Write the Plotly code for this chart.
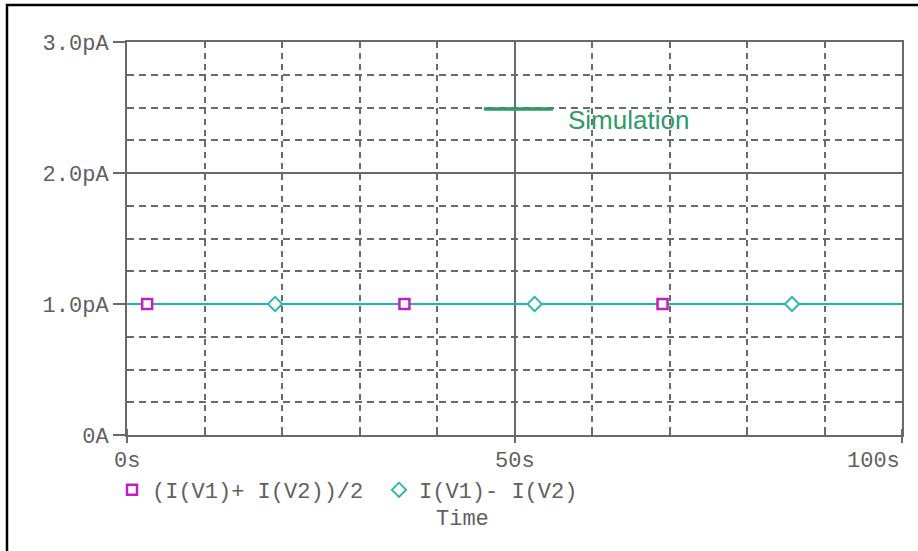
import plotly.graph_objects as go

# ---- data ----
time_s = [0, 100]
i_avg_pA = [1.0, 1.0]          # (I(V1)+ I(V2))/2
i_diff_pA = [1.0, 1.0]         # I(V1)- I(V2)
avg_marker_t = [2.6, 35.8, 69.1]
avg_marker_v = [1.0, 1.0, 1.0]
diff_marker_t = [19.1, 52.6, 85.8]
diff_marker_v = [1.0, 1.0, 1.0]

y_tick_vals = [0, 1, 2, 3]
y_tick_text = ["0A", "1.0pA", "2.0pA", "3.0pA"]
x_tick_vals = [0, 50, 100]
x_tick_text = ["0s", "50s", "100s"]

name_avg = "(I(V1)+ I(V2))/2"
name_diff = "I(V1)- I(V2)"

MAG = "#c020c0"
CYAN = "#22b4b4"
GRID = "#6a6a6a"
TXT = "#606060"
GREEN = "#2f9a68"
MONO = "Liberation Mono, Courier New, monospace"

fig = go.Figure()
fig.add_trace(go.Scatter(x=time_s, y=i_avg_pA, mode="lines",
                         line=dict(color=MAG, width=2), showlegend=False, hoverinfo="skip"))
fig.add_trace(go.Scatter(x=time_s, y=i_diff_pA, mode="lines",
                         line=dict(color=CYAN, width=2.2), showlegend=False, hoverinfo="skip"))
fig.add_trace(go.Scatter(x=avg_marker_t, y=avg_marker_v, mode="markers", name=name_avg,
                         marker=dict(symbol="square", size=10, color="white",
                                     line=dict(color=MAG, width=2.5))))
fig.add_trace(go.Scatter(x=diff_marker_t, y=diff_marker_v, mode="markers", name=name_diff,
                         marker=dict(symbol="diamond", size=11, color="white",
                                     line=dict(color=CYAN, width=1.8))))

L, T, R, B = 127, 42, 16, 116
W, H = 918, 551
pw, ph = W - L - R, H - T - B

def px(x):
    return (x - L) / pw

def py(y):
    return (H - B - y) / ph

annotations = []
for v, t in zip(x_tick_vals, x_tick_text):
    annotations.append(dict(x=v, y=py(461), xref="x", yref="paper", text=t,
                            showarrow=False, xanchor="right" if v == max(x_tick_vals) else "center",
                            yanchor="middle", font=dict(family=MONO, size=22, color=TXT)))
annotations.append(dict(x=px(462), y=py(519), xref="paper", yref="paper", text="Time",
                        showarrow=False, xanchor="center", yanchor="middle",
                        font=dict(family=MONO, size=22, color=TXT)))
annotations.append(dict(x=px(566), y=py(120), xref="paper", yref="paper", text="Simulation",
                        showarrow=False, xanchor="left", yanchor="middle",
                        font=dict(family="Liberation Sans, Arial, sans-serif", size=26, color=GREEN)))

shapes = [
    dict(type="line", xref="paper", yref="paper", x0=px(484), x1=px(553), y0=py(109), y1=py(109),
         line=dict(color=GREEN, width=3.5)),
    dict(type="line", xref="paper", yref="paper", x0=px(6), x1=px(920), y0=py(5), y1=py(5),
         line=dict(color="black", width=2.5)),
    dict(type="line", xref="paper", yref="paper", x0=px(7), x1=px(7), y0=py(4), y1=py(555),
         line=dict(color="black", width=2.5)),
]

fig.update_layout(
    width=W, height=H,
    margin=dict(l=L, r=R, t=T, b=B),
    paper_bgcolor="white", plot_bgcolor="white",
    showlegend=True,
    legend=dict(orientation="h", x=px(112), xanchor="left", y=py(490), yanchor="middle",
                font=dict(family=MONO, size=22, color=TXT), bgcolor="rgba(0,0,0,0)",
                itemclick=False, tracegroupgap=0, entrywidth=222),
    annotations=annotations,
    shapes=shapes,
)

fig.update_xaxes(range=[0, 100], showline=True, linecolor=GRID, linewidth=2, mirror=True,
                 tickvals=x_tick_vals, showticklabels=False, ticks="outside", ticklen=6,
                 tickcolor=GRID, tickwidth=2,
                 showgrid=True, gridcolor=GRID, gridwidth=1.5, zeroline=False,
                 minor=dict(dtick=10, tick0=0, ticks="inside", ticklen=6, tickcolor=GRID,
                            showgrid=True, gridcolor=GRID, gridwidth=1.5, griddash="6px,5px"))
fig.update_yaxes(range=[0, 3], showline=True, linecolor=GRID, linewidth=2, mirror=True,
                 tickvals=y_tick_vals, ticktext=y_tick_text, ticks="outside", ticklen=12,
                 tickcolor=GRID, tickwidth=2,
                 tickfont=dict(family=MONO, size=22, color=TXT),
                 showgrid=True, gridcolor=GRID, gridwidth=1.5, zeroline=False,
                 minor=dict(dtick=0.25, tick0=0, ticks="",
                            showgrid=True, gridcolor=GRID, gridwidth=1.5, griddash="7px,5px"))

fig.write_html("out.html", config={"displayModeBar": False},
               post_script="document.body.style.margin='0';")
